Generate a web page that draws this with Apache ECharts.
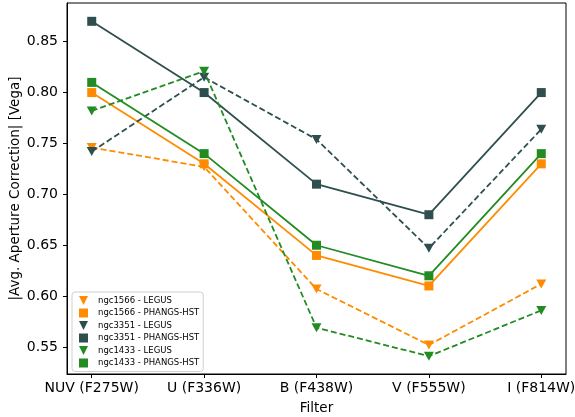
<!DOCTYPE html>
<html>
<head>
<meta charset="utf-8">
<script src="https://cdn.jsdelivr.net/npm/echarts@6/dist/echarts.min.js"></script>
<style>
  html, body { margin: 0; padding: 0; background: #fff; }
  #chart { width: 575px; height: 417px; }
</style>
</head>
<body>
<div id="chart"></div>
<script>
// filters along the x axis
const filters = ['NUV (F275W)', 'U (F336W)', 'B (F438W)', 'V (F555W)', 'I (F814W)']
const yTicks = [0.55, 0.6, 0.65, 0.7, 0.75, 0.8, 0.85]

const ngc1566Legus = [0.746, 0.727, 0.607, 0.552, 0.612]
const ngc1566Phangs = [0.80, 0.73, 0.64, 0.61, 0.73]
const ngc3351Legus = [0.742, 0.815, 0.754, 0.647, 0.764]
const ngc3351Phangs = [0.87, 0.80, 0.71, 0.68, 0.80]
const ngc1433Legus = [0.782, 0.821, 0.569, 0.541, 0.586]
const ngc1433Phangs = [0.81, 0.74, 0.65, 0.62, 0.74]

const ORANGE = '#FF8C00'
const SLATE = '#2F4F4F'
const GREEN = '#228B22'
const TRI = 'path://M0,0 L10,0 L5,10 Z'
const SQ = 'rect'

const chart = echarts.init(document.getElementById('chart'), null, { renderer: 'canvas' })

const mk = (name, values, color, dashed, symbol) => ({
  name,
  type: 'line',
  data: values.map((v, i) => [i, v]),
  symbol,
  symbolSize: symbol === SQ ? 9 : [10, 9],
  showAllSymbol: true,
  itemStyle: { color, borderColor: color, borderWidth: 0, opacity: 1 },
  lineStyle: { color, width: 1.8, type: dashed ? [6, 3] : 'solid' },
  emphasis: { disabled: true },
  animation: false,
})

const font = 'DejaVu Sans'

chart.setOption({
  backgroundColor: '#fff',
  animation: false,
  grid: {
    left: 67, right: 9, top: 3, bottom: 43,
    outerBoundsMode: 'none',
    containLabel: false,
    show: true, borderColor: '#000', borderWidth: 1,
  },
  legend: {
    orient: 'vertical',
    left: 72, top: 292,
    itemWidth: 9, itemHeight: 9,
    itemGap: 3.5,
    padding: [4, 4, 4, 7],
    borderColor: '#d0d0d0', borderWidth: 1, borderRadius: 3,
    backgroundColor: '#fff',
    textStyle: { fontFamily: font, fontSize: 8.5, lineHeight: 9, color: '#000', padding: [0, 0, 0, 5] },
    data: [
      { name: 'ngc1566 - LEGUS', icon: TRI },
      { name: 'ngc1566 - PHANGS-HST', icon: SQ },
      { name: 'ngc3351 - LEGUS', icon: TRI },
      { name: 'ngc3351 - PHANGS-HST', icon: SQ },
      { name: 'ngc1433 - LEGUS', icon: TRI },
      { name: 'ngc1433 - PHANGS-HST', icon: SQ },
    ],
  },
  xAxis: {
    type: 'value',
    min: -0.22, max: 4.22,
    name: 'Filter',
    nameLocation: 'middle',
    nameGap: 27,
    nameMoveOverlap: false,
    nameTextStyle: { fontFamily: font, fontSize: 13.5, color: '#000' },
    splitLine: { show: false },
    axisLine: { onZero: false, lineStyle: { color: '#000', width: 1 } },
    axisTick: { length: 4, lineStyle: { color: '#000' }, customValues: [0, 1, 2, 3, 4] },
    axisLabel: {
      customValues: [0, 1, 2, 3, 4],
      formatter: v => filters[Math.round(v)],
      fontFamily: font, fontSize: 14, color: '#000', margin: 7,
    },
  },
  yAxis: {
    type: 'value',
    min: 0.5235, max: 0.888,
    name: '|Avg. Aperture Correction| [Vega]',
    nameLocation: 'middle',
    nameGap: 45,
    nameMoveOverlap: false,
    nameTextStyle: { fontFamily: font, fontSize: 13.5, color: '#000' },
    splitLine: { show: false },
    axisLine: { show: true, onZero: false, lineStyle: { color: '#000', width: 1 } },
    axisTick: { show: true, length: 4, lineStyle: { color: '#000' }, customValues: yTicks },
    axisLabel: {
      customValues: yTicks,
      formatter: v => v.toFixed(2),
      fontFamily: font, fontSize: 14, color: '#000', margin: 9,
    },
  },
  series: [
    mk('ngc1566 - LEGUS', ngc1566Legus, ORANGE, true, TRI),
    mk('ngc1566 - PHANGS-HST', ngc1566Phangs, ORANGE, false, SQ),
    mk('ngc3351 - LEGUS', ngc3351Legus, SLATE, true, TRI),
    mk('ngc3351 - PHANGS-HST', ngc3351Phangs, SLATE, false, SQ),
    mk('ngc1433 - LEGUS', ngc1433Legus, GREEN, true, TRI),
    mk('ngc1433 - PHANGS-HST', ngc1433Phangs, GREEN, false, SQ),
  ],
})
</script>
</body>
</html>
